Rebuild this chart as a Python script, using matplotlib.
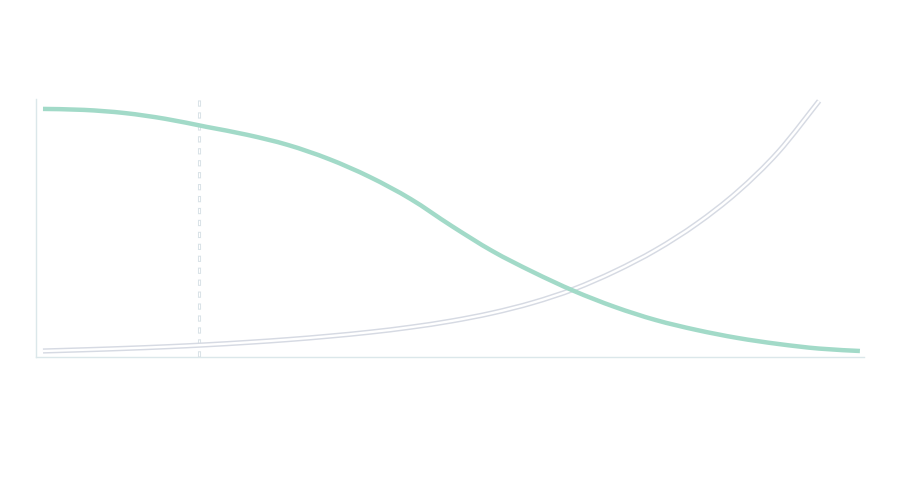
import matplotlib
matplotlib.use("Agg")
import matplotlib.pyplot as plt
from matplotlib.path import Path
from matplotlib.patches import PathPatch

# Data (arbitrary units, 0..~100)
x_green = list(range(21))
green = [100.0, 99.6, 98.3, 95.9, 92.6, 89.3, 85.1, 79.3, 71.9, 62.8, 51.7,
         41.3, 32.6, 24.8, 18.2, 12.8, 8.7, 5.4, 2.9, 1.0, 0.0]
x_light = list(range(20))
light = [0.0, 0.5, 1.07, 1.74, 2.56, 3.55, 4.71, 6.12, 7.77, 9.83, 12.4,
         15.7, 20.0, 25.6, 32.9, 41.7, 52.5, 65.7, 82.2, 103.3]
marker_x = 3.82

plt.rcParams["lines.scale_dashes"] = False


def smooth_path(xs, ys):
    """Bezier path through the data points (Catmull-Rom style smoothing)."""
    n = len(xs)
    verts = [(xs[0], ys[0])]
    codes = [Path.MOVETO]
    for i in range(n - 1):
        x0, y0 = (xs[i - 1], ys[i - 1]) if i > 0 else (xs[i], ys[i])
        x1, y1 = xs[i], ys[i]
        x2, y2 = xs[i + 1], ys[i + 1]
        x3, y3 = (xs[i + 2], ys[i + 2]) if i + 2 < n else (xs[i + 1], ys[i + 1])
        c1 = (x1 + (x2 - x0) / 6.0, y1 + (y2 - y0) / 6.0)
        c2 = (x2 - (x3 - x1) / 6.0, y2 - (y3 - y1) / 6.0)
        verts += [c1, c2, (x2, y2)]
        codes += [Path.CURVE4] * 3
    return Path(verts, codes)


fig = plt.figure(figsize=(8.99, 5.02), dpi=100)
ax = fig.add_axes([36/899, 144/502, 828/899, 258/502])

spine_col = "#dbe7ea"
for s in ["top", "right"]:
    ax.spines[s].set_visible(False)
for s in ["left", "bottom"]:
    ax.spines[s].set_color(spine_col)
    ax.spines[s].set_linewidth(1.0)
ax.set_xticks([])
ax.set_yticks([])

# dashed vertical marker (outlined dashes)
ax.axvline(marker_x, color="#d9e2e7", lw=2.2, linestyle=(0, (4.5, 4.1)), zorder=1)
ax.axvline(marker_x, color="white", lw=0.8, linestyle=(7.85, (3.0, 5.6)), zorder=1.1)

lp = smooth_path(x_light, light)
gp = smooth_path(x_green, green)

# light outlined curve
ax.add_patch(PathPatch(lp, fill=False, edgecolor="#d6dae3", lw=3.8, capstyle="butt", zorder=2))
ax.add_patch(PathPatch(lp, fill=False, edgecolor="white", lw=1.7, capstyle="butt", zorder=2.1))

# green curve
ax.add_patch(PathPatch(gp, fill=False, edgecolor="#a2dac8", lw=3.2, capstyle="butt", zorder=3))

ax.set_xlim(-0.171, 20.1)
ax.set_ylim(-2.48, 104.1)

fig.savefig("out.png", dpi=100)
